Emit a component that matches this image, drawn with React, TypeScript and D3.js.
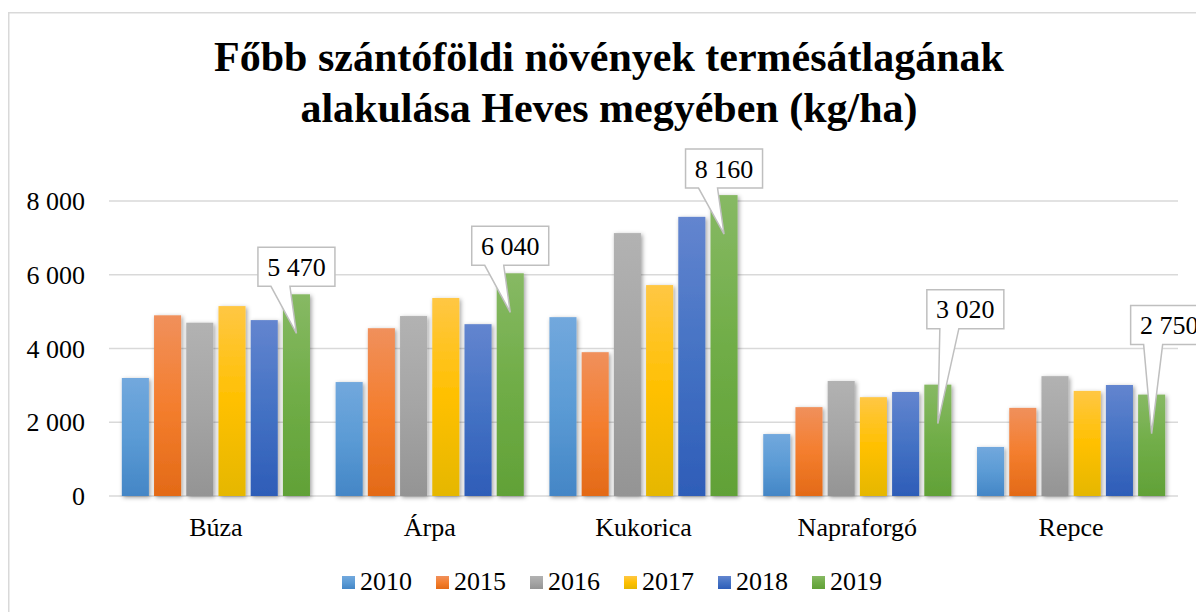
import React from "react";
import * as d3 from "d3";

const categories = ["Búza", "Árpa", "Kukorica", "Napraforgó", "Repce"];
const years = ["2010", "2015", "2016", "2017", "2018", "2019"];
const v2010 = [3200, 3090, 4850, 1680, 1330];
const v2015 = [4900, 4550, 3900, 2410, 2390];
const v2016 = [4700, 4880, 7130, 3120, 3250];
const v2017 = [5150, 5370, 5720, 2680, 2850];
const v2018 = [4770, 4660, 7570, 2820, 3010];
const v2019 = [5470, 6040, 8160, 3020, 2750];
const seriesValues = [v2010, v2015, v2016, v2017, v2018, v2019];
const yTicks = [0, 2000, 4000, 6000, 8000];
const titleLines = [
  "Főbb szántóföldi növények termésátlagának",
  "alakulása Heves megyében (kg/ha)",
];

// style: gradient stops (top, middle, bottom) per series
const gradients = [
  ["#72a8dd", "#5b9bd5", "#4486c6"],
  ["#f0905c", "#f47e2e", "#e36a17"],
  ["#b2b2b2", "#a5a5a5", "#949494"],
  ["#ffc744", "#ffc000", "#e5b700"],
  ["#6385cf", "#4472c4", "#2e5db8"],
  ["#87b964", "#70ad47", "#61a137"],
];

// callout layout: left offset from bar centre, bottom gap above bar top
const calloutLeft = [-38.5, -38.5, -38.5, -11, -21];
const calloutGap = [8, 8, 7, 56, 50];

const W = 1196;
const H = 612;
const FONT = "'Liberation Serif', 'Times New Roman', Times, serif";
const textStyle: React.CSSProperties = { fontFamily: FONT };

const locale = d3.formatLocale({ decimal: ",", thousands: " ", grouping: [3], currency: ["", ""] });
const fmt = locale.format(",d");

export default function App() {
  const x0 = d3.scaleBand<string>().domain(categories).range([109, 1178]).paddingInner(0.12).paddingOuter(0.06);
  const x1 = d3.scaleBand<string>().domain(years).range([0, x0.bandwidth()]).paddingInner(0.16).paddingOuter(0);
  const y = d3.scaleLinear().domain([0, 8000]).range([496, 201]);

  const legendStart = 342;
  const legendStep = 94;

  return (
    <svg width={W} height={H} style={{ position: "absolute", left: 0, top: 0, background: "#fff", fontFamily: FONT }}>
      <defs>
        {gradients.map((g, i) => (
          <linearGradient key={i} id={`grad${i}`} x1="0" y1="0" x2="0" y2="1">
            <stop offset="0%" stopColor={g[0]} />
            <stop offset="50%" stopColor={g[1]} />
            <stop offset="100%" stopColor={g[2]} />
          </linearGradient>
        ))}
        <filter id="shadow" x="-30%" y="-10%" width="160%" height="120%">
          <feDropShadow dx="1.5" dy="1.5" stdDeviation="2" floodColor="#000" floodOpacity="0.38" />
        </filter>
      </defs>
      <rect x={0} y={0} width={W} height={H} fill="#fff" />
      <rect x={8.75} y={12.75} width={1400} height={800} fill="none" stroke="#d9d9d9" strokeWidth={1.5} />

      {titleLines.map((t, i) => (
        <text key={i} x={609} y={71 + i * 51} textAnchor="middle" fontSize={42} fontWeight="bold" fill="#000" style={textStyle}>
          {t}
        </text>
      ))}

      {yTicks.map((t) => (
        <g key={t}>
          <line x1={109} x2={1178} y1={y(t)} y2={y(t)} stroke="#d9d9d9" strokeWidth={1.5} />
          <text x={85} y={y(t)} dy="0.35em" textAnchor="end" fontSize={26} fill="#000" style={textStyle}>
            {fmt(t)}
          </text>
        </g>
      ))}

      {categories.map((c, ci) => (
        <g key={c}>
          {years.map((yr, si) => {
            const v = seriesValues[si][ci];
            const bx = (x0(c) as number) + (x1(yr) as number);
            return (
              <rect
                key={yr}
                x={bx}
                y={y(v)}
                width={x1.bandwidth()}
                height={y(0) - y(v)}
                fill={`url(#grad${si})`}
                filter="url(#shadow)"
              />
            );
          })}
          <text x={(x0(c) as number) + x0.bandwidth() / 2} y={536} textAnchor="middle" fontSize={26} fill="#000" style={textStyle}>
            {c}
          </text>
        </g>
      ))}

      {categories.map((c, ci) => {
        const si = years.length - 1;
        const v = seriesValues[si][ci];
        const cx = (x0(c) as number) + (x1(years[si]) as number) + x1.bandwidth() / 2;
        const top = y(v);
        const tipY = top + 39;
        const L = cx + calloutLeft[ci];
        const B = top - calloutGap[ci];
        const T = B - 39;
        const R = L + 77;
        const d = `M${L},${T}H${R}V${B}H${L + 32}L${cx},${tipY}L${L + 13},${B}H${L}Z`;
        return (
          <g key={c}>
            <path d={d} fill="#fff" stroke="#bfbfbf" strokeWidth={1.5} />
            <text x={L + 38.5} y={T + 19.5} dy="0.35em" textAnchor="middle" fontSize={26} fill="#000" style={textStyle}>
              {fmt(v)}
            </text>
          </g>
        );
      })}

      {years.map((yr, si) => (
        <g key={yr} transform={`translate(${legendStart + si * legendStep},0)`}>
          <rect x={0} y={576} width={13} height={13} fill={`url(#grad${si})`} />
          <text x={18} y={590} fontSize={26} fill="#000" style={textStyle}>
            {yr}
          </text>
        </g>
      ))}
    </svg>
  );
}
